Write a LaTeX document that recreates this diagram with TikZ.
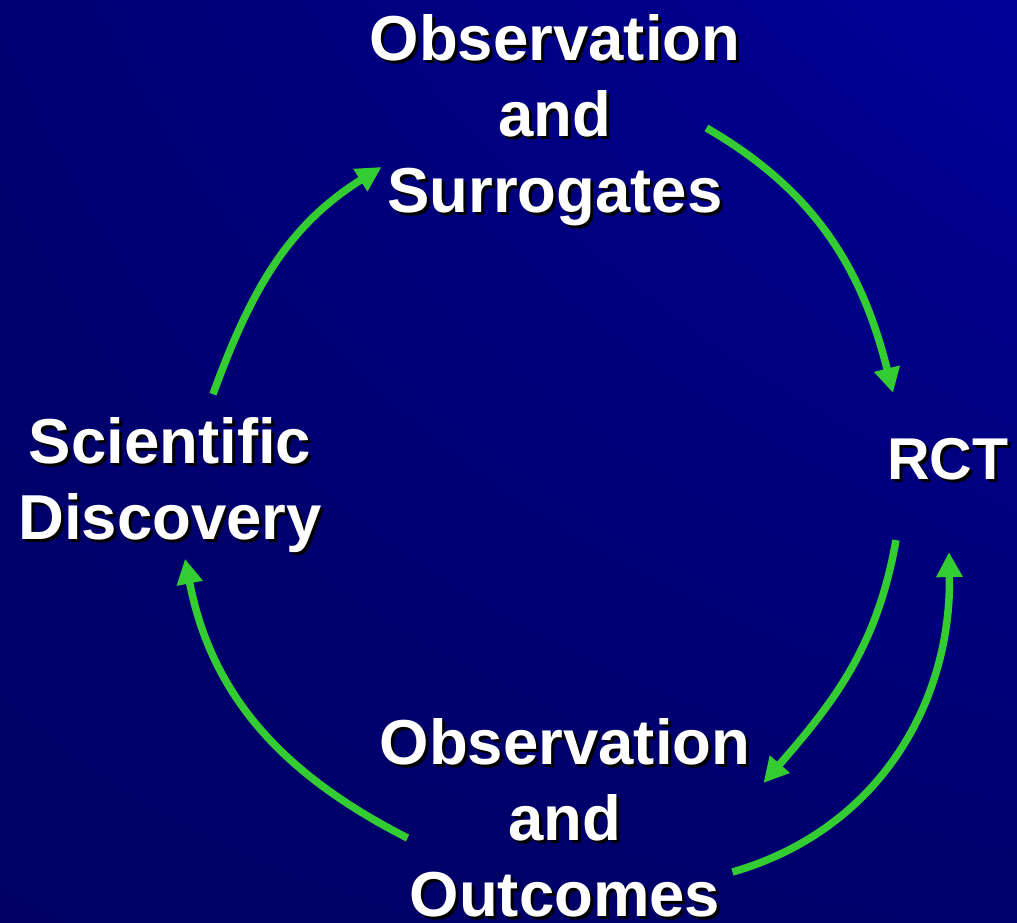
\documentclass[tikz,border=0pt]{standalone}
\usepackage{fontspec}
\setmainfont{Liberation Sans}
\usepackage{tikz}
\usetikzlibrary{arrows.meta,shadings}
\usepackage{xcolor}

\definecolor{bgul}{RGB}{0,0,114}
\definecolor{bgur}{RGB}{0,0,152}
\definecolor{bgll}{RGB}{0,0,100}
\definecolor{bglr}{RGB}{0,0,108}
\definecolor{cyclegreen}{RGB}{51,204,51}

% white word with a black drop shadow
\newcommand{\shw}[1]{\rlap{\hspace{3pt}\raisebox{-3pt}[0pt][0pt]{\textcolor{black}{#1}}}#1}

\begin{document}
\begin{tikzpicture}[x=1pt,y=1pt,>={Triangle[length=25pt,width=25pt]},
  stage/.style={text=white,font=\fontsize{63.5}{76}\selectfont\bfseries,align=center,inner sep=0pt},
  flow/.style={->,draw=cyclegreen,line width=7.5pt}]
\shade[upper left=bgul,upper right=bgur,lower left=bgll,lower right=bglr] (0,0) rectangle (1017,922);
\useasboundingbox (0,0) rectangle (1017,922);

\node[stage] (surr) at (555,802) {\shw{Observation}\\\shw{and}\\\shw{Surrogates}};
\node[stage,font=\fontsize{59}{70}\selectfont\bfseries] (rct) at (948,463) {\shw{RCT}};
\node[stage] (outc) at (565,104) {\shw{Observation}\\\shw{and}\\\shw{Outcomes}};
\node[stage] (sci) at (170,437) {\shw{Scientific}\\\shw{Discovery}};

\draw[flow] ([xshift=43pt,yshift=23pt]sci.north) to[out=70,in=212] ([xshift=12pt,yshift=-47pt]surr.west);
\draw[flow] ([xshift=-34pt,yshift=-8pt]surr.east) to[out=-30,in=104] ([xshift=-55pt,yshift=45pt]rct.north);
\draw[flow] ([xshift=-52pt,yshift=-60pt]rct.south) to[out=-100,in=49] ([xshift=13pt,yshift=35pt]outc.east);
\draw[flow] ([xshift=-18pt,yshift=-54pt]outc.east) to[out=16,in=-89] ([xshift=1pt,yshift=-72pt]rct.south);
\draw[flow] ([xshift=28pt,yshift=-20pt]outc.west) to[out=153,in=-79] ([xshift=15pt,yshift=-6pt]sci.south);
\end{tikzpicture}
\end{document}
